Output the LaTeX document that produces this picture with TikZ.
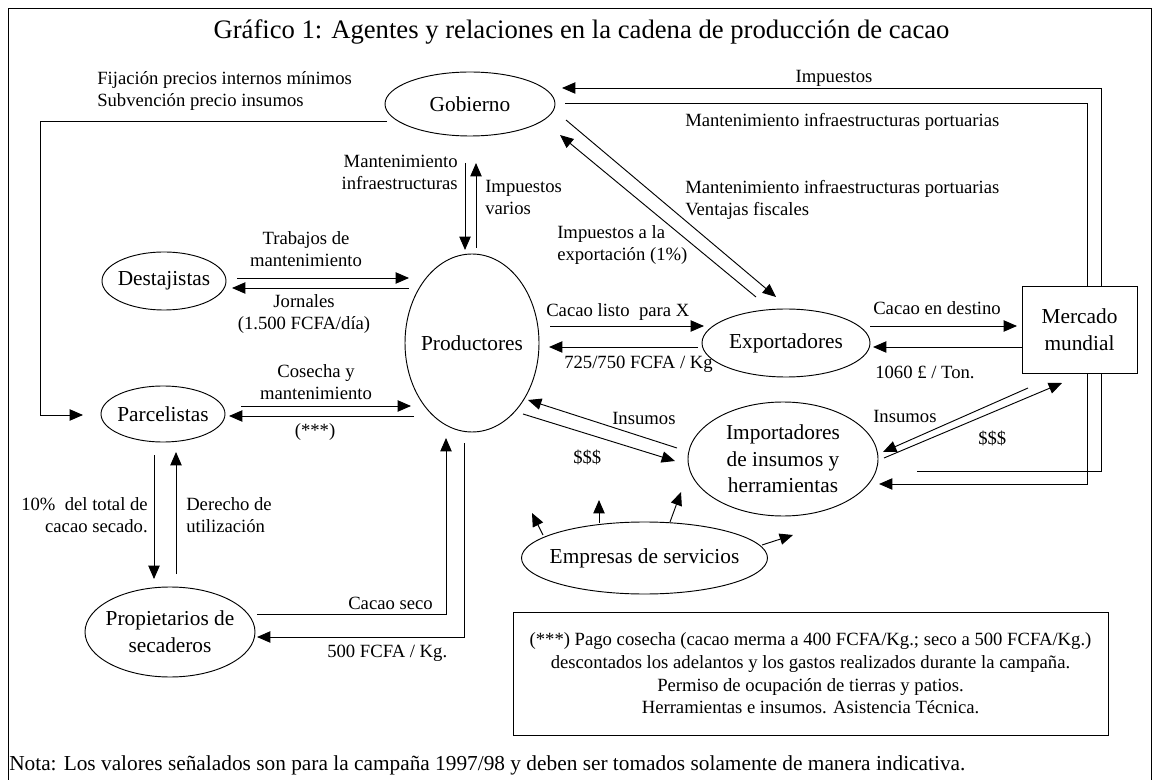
\documentclass[tikz,border=0pt]{standalone}
\usepackage{fontspec}
\setmainfont{Liberation Serif}
\usetikzlibrary{shapes.geometric,arrows.meta,calc}
\pgfdeclarelayer{bg}
\pgfsetlayers{bg,main}
\newcommand\nodefont{\fontsize{16}{20}\selectfont}
\newcommand\lblfont{\fontsize{14}{16.5}\selectfont}
\newcommand\boxfont{\fontsize{14}{17}\selectfont}
\newcommand\ttlfont{\fontsize{20}{24}\selectfont}
\tikzset{
  ell/.style={draw, ellipse, line width=0.7pt, inner xsep=-14pt, inner ysep=-8pt, font=\nodefont, align=center},
  lbl/.style={inner sep=0pt, font=\lblfont},
  arr/.style={-{Triangle[length=10pt,width=8.5pt]}, line width=0.7pt},
  ln/.style={line width=0.7pt}
}
\begin{document}
\begin{tikzpicture}[x=0.75pt,y=-0.75pt]
\useasboundingbox (0,0) rectangle (1153,780);
\draw[ln] (8,780) -- (8,8) -- (1151,8) -- (1151,780);

% agents
\node[ell, minimum width=127.5pt, minimum height=48pt] (gob) at (470,104) {Gobierno};
\node[ell, minimum width=100.5pt, minimum height=133.5pt] (prod) at (472,343) {Productores};
\node[ell, minimum width=93pt, minimum height=43.5pt] (dest) at (164,281) {Destajistas};
\node[ell, minimum width=93pt, minimum height=42pt] (parc) at (163,414) {Parcelistas};
\node[ell, minimum width=127.5pt, minimum height=67.5pt] (prop) at (170,632) {Propietarios de\\secaderos};
\node[ell, minimum width=126pt, minimum height=51pt] (expo) at (786,343) {Exportadores};
\node[draw, rectangle, fill=white, line width=0.7pt, minimum width=86.25pt, minimum height=65.25pt, align=center, font=\nodefont, inner sep=0pt] (merc) at (1079.5,329.5) {Mercado\\mundial};
\node[ell, minimum width=142.5pt, minimum height=85.5pt] (imp) at (783,459) {Importadores\\de insumos y\\herramientas};
\node[ell, minimum width=184.5pt, minimum height=54pt] (emp) at (644.5,558) {Empresas de servicios};
\node[draw, rectangle, line width=0.7pt, minimum width=446.25pt, minimum height=92.25pt, align=center, font=\boxfont, inner sep=0pt] (obs) at (810.5,673.5) {(***) Pago cosecha (cacao merma a 400 FCFA/Kg.; seco a 500 FCFA/Kg.)\\descontados los adelantos y los gastos realizados durante la campaña.\\Permiso de ocupación de tierras y patios.\\Herramientas e insumos. Asistencia Técnica.};

% texts
\node[inner sep=0pt, font=\ttlfont] (title) at (581.5,32) {Gráfico 1: Agentes y relaciones en la cadena de producción de cacao};
\node[lbl, anchor=west, align=left] (fij) at (97,91) {Fijación precios internos mínimos\\Subvención precio insumos};
\node[lbl, anchor=east, align=right] (mantinf) at (458,172) {Mantenimiento\\infraestructuras};
\node[lbl, anchor=west, align=left] (impvar) at (485,197) {Impuestos\\varios};
\node[lbl, align=center] (trab) at (306,249) {Trabajos de\\mantenimiento};
\node[lbl, align=center] (jorn) at (304,314) {Jornales\\(1.500 FCFA/día)};
\node[lbl, align=center] (cose) at (316,382) {Cosecha y\\mantenimiento};
\node[lbl] (ast) at (315,432) {(***)};
\node[lbl, anchor=east, align=right] (pct) at (148,515) {10\%\ \ del total de\\cacao secado.};
\node[lbl, anchor=west, align=left] (der) at (186,515) {Derecho de\\utilización};
\node[lbl, anchor=east] (cseco) at (433,603) {Cacao seco};
\node[lbl, anchor=west] (p500) at (327,653) {500 FCFA / Kg.};
\node[lbl, anchor=west] (clisto) at (546,312) {Cacao listo\ \ para X};
\node[lbl, anchor=west] (p725) at (564,364) {725/750 FCFA / Kg};
\node[lbl, anchor=west] (cdest) at (873,308) {Cacao en destino};
\node[lbl, anchor=west] (p1060) at (875,372) {1060 £ / Ton.};
\node[lbl] (impu) at (834,78) {Impuestos};
\node[lbl, anchor=west] (mip1) at (685,122) {Mantenimiento infraestructuras portuarias};
\node[lbl, anchor=west, align=left] (mip2) at (685,200) {Mantenimiento infraestructuras portuarias\\Ventajas fiscales};
\node[lbl, anchor=west, align=left] (impexp) at (557,245) {Impuestos a la\\exportación (1\%)};
\node[lbl, anchor=west] (ins1) at (612,418) {Insumos};
\node[lbl, anchor=west] (d1) at (573,457) {\$\$\$};
\node[lbl, anchor=west] (ins2) at (873,416) {Insumos};
\node[lbl, anchor=west] (d2) at (978,438) {\$\$\$};
\node[inner sep=0pt, font=\nodefont, anchor=west] (nota) at (9,765) {Nota: Los valores señalados son para la campaña 1997/98 y deben ser tomados solamente de manera indicativa.};

\begin{pgfonlayer}{bg}
% Gobierno -> Parcelistas
\draw[arr] ($(gob)+(-83,17)$) -| ($(parc)+(-123,1)$) -- ($(parc)+(-80,1)$);
% Gobierno <-> Productores
\draw[arr] ($(gob)+(-5,59)$) -- ($(prod)+(-7,-93)$);
\draw[arr] ($(prod)+(4,-95)$) -- ($(gob)+(6,59)$);
% Destajistas
\draw[arr] ($(dest)+(73,-3)$) -- ($(prod)+(-63,-65)$);
\draw[arr] ($(prod)+(-63,-55)$) -- ($(dest)+(68,7)$);
% Parcelistas
\draw[arr] ($(parc)+(78,-8)$) -- ($(prod)+(-61,63)$);
\draw[arr] ($(prod)+(-58,73)$) -- ($(parc)+(66,2)$);
% Parcelistas <-> Propietarios
\draw[arr] ($(parc)+(-9,41)$) -- ($(prop)+(-16,-53)$);
\draw[arr] ($(prop)+(6,-58)$) -- ($(parc)+(13,38)$);
% Propietarios <-> Productores
\draw[arr] ($(prop)+(87,-18)$) -| ($(prod)+(-26,95)$);
\draw[arr] ($(prod)+(-8,100)$) |- ($(prop)+(87,5)$);
% Productores <-> Exportadores
\draw[arr] ($(prod)+(78,-17)$) -- ($(expo)+(-82,-17)$);
\draw[arr] ($(expo)+(-88,4)$) -- ($(prod)+(77,4)$);
% Exportadores <-> Mercado
\draw[arr] ($(expo)+(84,-17)$) -- ($(merc)+(-62.5,-3.5)$);
\draw[arr] ($(merc)+(-57.5,17.5)$) -- ($(expo)+(87,4)$);
% Gobierno <-> Exportadores
\draw[arr] ($(gob)+(96,16)$) -- ($(expo)+(-10,-46)$);
\draw[arr] ($(expo)+(-30,-46)$) -- ($(gob)+(90,31)$);
% Impuestos loop and port maintenance loop
\draw[arr] ($(imp)+(134,12)$) -| ($(gob)+(631,-16)$) -- ($(gob)+(92,-16)$);
\draw[arr] ($(gob)+(95,-1)$) -| ($(imp)+(304,25)$) -- ($(imp)+(96,25)$);
% Importadores <-> Mercado
\draw[arr] ($(imp)+(101,-1)$) -- ($(merc)+(-17.5,53.5)$);
\draw[arr] ($(merc)+(-51.5,58.5)$) -- ($(imp)+(100,-7)$);
% Productores <-> Importadores
\draw[arr] ($(imp)+(-106,-11)$) -- ($(prod)+(56,57)$);
\draw[arr] ($(prod)+(51,71)$) -- ($(imp)+(-108,2)$);
% Empresas de servicios
\draw[arr] ($(emp)+(-101.5,-23)$) -- ($(emp)+(-112.5,-45)$);
\draw[arr] ($(emp)+(-45.5,-35)$) -- ($(emp)+(-45.5,-58)$);
\draw[arr] ($(emp)+(25.5,-36)$) -- ($(emp)+(36.5,-66)$);
\draw[arr] ($(emp)+(117.5,-13)$) -- ($(emp)+(148.5,-23)$);
\end{pgfonlayer}
\end{tikzpicture}
\end{document}
